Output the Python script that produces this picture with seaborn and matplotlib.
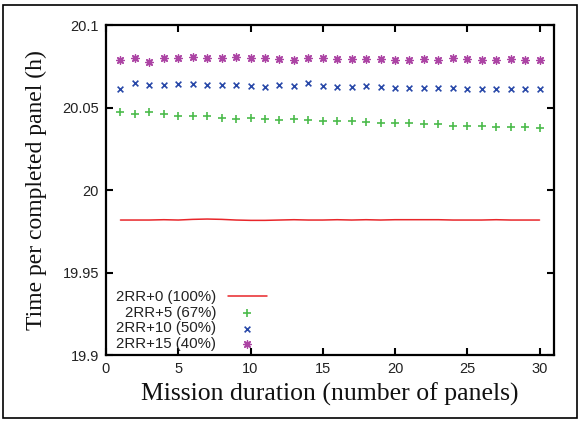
import numpy as np
import pandas as pd
import matplotlib
matplotlib.use("Agg")
import matplotlib.pyplot as plt
import seaborn as sns
from matplotlib.patches import Rectangle

panels = list(range(1, 31))
rr0 = [19.9818, 19.9818, 19.9818, 19.9820, 19.9818, 19.9822, 19.9824, 19.9822, 19.9818, 19.9816,
       19.9816, 19.9818, 19.9820, 19.9818, 19.9818, 19.9820, 19.9818, 19.9820, 19.9818, 19.9820,
       19.9820, 19.9820, 19.9820, 19.9818, 19.9818, 19.9818, 19.9820, 19.9818, 19.9818, 19.9818]
rr5 = [20.0475, 20.0459, 20.0471, 20.0461, 20.0450, 20.0448, 20.0450, 20.0438, 20.0430, 20.0434,
       20.0432, 20.0426, 20.0430, 20.0422, 20.0420, 20.0418, 20.0420, 20.0414, 20.0408, 20.0404,
       20.0404, 20.0400, 20.0398, 20.0390, 20.0388, 20.0388, 20.0384, 20.0384, 20.0380, 20.0378]
rr10 = [20.0610, 20.0646, 20.0636, 20.0636, 20.0642, 20.0642, 20.0636, 20.0634, 20.0636, 20.0632,
        20.0626, 20.0634, 20.0630, 20.0646, 20.0630, 20.0622, 20.0626, 20.0630, 20.0622, 20.0620,
        20.0620, 20.0620, 20.0620, 20.0618, 20.0612, 20.0612, 20.0612, 20.0614, 20.0612, 20.0612]
rr15 = [20.0788, 20.0798, 20.0778, 20.0798, 20.0798, 20.0804, 20.0798, 20.0798, 20.0804, 20.0798,
        20.0798, 20.0794, 20.0788, 20.0798, 20.0798, 20.0792, 20.0794, 20.0794, 20.0794, 20.0788,
        20.0788, 20.0794, 20.0788, 20.0798, 20.0794, 20.0788, 20.0788, 20.0792, 20.0788, 20.0788]
labels = ["2RR+0 (100%)", "2RR+5 (67%)", "2RR+10 (50%)", "2RR+15 (40%)"]
xticks = [0, 5, 10, 15, 20, 25, 30]
yticks = [19.9, 19.95, 20.0, 20.05, 20.1]
yticklabels = ["19.9", "19.95", "20", "20.05", "20.1"]

sns.set_style("ticks")
plt.rcParams["font.family"] = ["Liberation Sans", "DejaVu Sans"]

fig = plt.figure(figsize=(5.8, 4.23), dpi=100)
ax = fig.add_axes([106/580, 1-355/423, (554-106)/580, (355-25)/423])

sns.lineplot(x=panels, y=rr0, ax=ax, color="#e8262a", linewidth=1.1, label=labels[0])
sns.scatterplot(x=panels, y=rr5, ax=ax, marker="+", color="#4cbb4c", s=40, linewidth=1.2, label=labels[1])
sns.scatterplot(x=panels, y=rr10, ax=ax, marker="x", color="#2848a8", s=17, linewidth=1.2, label=labels[2])
sns.scatterplot(x=panels, y=rr15, ax=ax, marker=(8, 2, 0), color="#ac44a4", s=28, linewidth=1.0, label=labels[3])

ax.set_xlim(0, 31)
ax.set_ylim(19.9, 20.1)
ax.set_xticks(xticks)
ax.set_yticks(yticks)
ax.set_yticklabels(yticklabels)
ax.tick_params(direction="in", length=5, width=1.5, labelsize=10.5, top=True, right=True,
               labeltop=False, labelright=False, pad=5, color="black", labelcolor="#222222")
for sp in ax.spines.values():
    sp.set_visible(True)
    sp.set_linewidth(1.6)
    sp.set_color("black")

ax.set_xlabel("Mission duration (number of panels)", family="Liberation Serif", fontsize=18.5,
              labelpad=5, color="#111111")
ax.set_ylabel("Time per completed panel (h)", family="Liberation Serif", fontsize=17,
              labelpad=11, color="#111111")

leg = ax.legend(loc="lower left", markerfirst=False, frameon=False, fontsize=10.8,
                handlelength=2.6, handletextpad=0.75, labelspacing=0.12,
                borderaxespad=0.0, borderpad=0.25, bbox_to_anchor=(0.014, 0.0))
for t in leg.get_texts():
    t.set_color("#222222")

fig.patches.append(Rectangle((3/580, 1-418/423), 574/580, 413/423, transform=fig.transFigure,
                             fill=False, edgecolor="black", linewidth=1.2))

fig.savefig("out.png", dpi=100)
